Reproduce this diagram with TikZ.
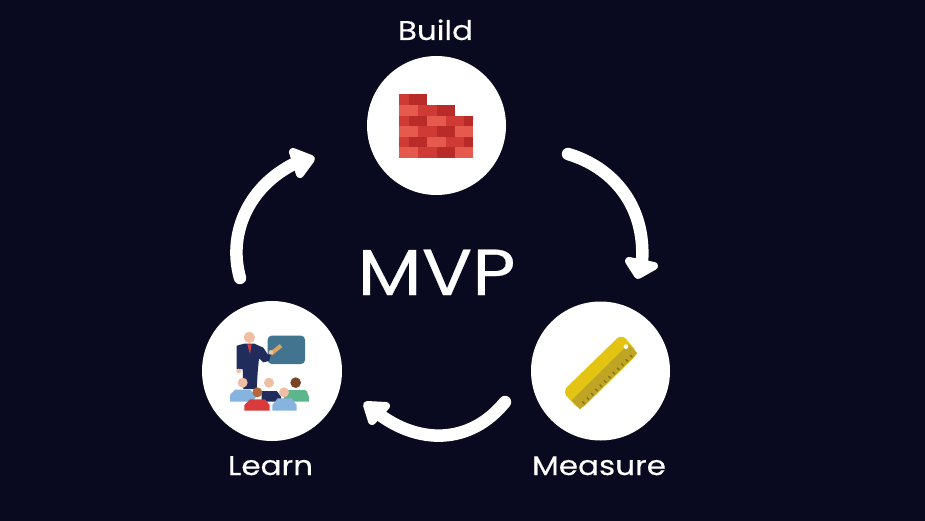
\documentclass[tikz,border=0pt]{standalone}
\usepackage{fontspec}
\setmainfont[FakeStretch=1.15,FakeBold=0.35]{Poppins}
\definecolor{bgc}{HTML}{090A1F}
\definecolor{brL}{HTML}{E65A4E}
\definecolor{brM}{HTML}{CF3B34}
\definecolor{brD}{HTML}{B92B29}
\definecolor{ruA}{HTML}{E3C412}
\definecolor{ruB}{HTML}{BFA523}
\definecolor{ruT}{HTML}{7F6E1A}
\definecolor{suit}{HTML}{1F2C5C}
\definecolor{skin}{HTML}{F0BDA5}
\definecolor{board}{HTML}{42748F}
\definecolor{stuB}{HTML}{86B4DE}
\definecolor{stuG}{HTML}{5DB58C}
\definecolor{stuR}{HTML}{D93A3C}
\definecolor{hairA}{HTML}{7A4526}
\definecolor{hairB}{HTML}{B5683D}
\definecolor{stick}{HTML}{D9A560}
\tikzset{
  disc/.style={circle,fill=white,draw=none,minimum size=139pt,inner sep=0pt,outer sep=0pt},
  lab/.style={text=white,inner sep=0pt,font=\fontsize{27}{27}\selectfont},
  title/.style={text=white,inner sep=0pt,font=\fontsize{65}{65}\selectfont},
  cyc/.style={draw=white,line width=12.5pt,line cap=round},
  headtri/.style={fill=white,draw=white,line width=8pt,line join=round},
  zoomA/.style={shift={(360,50)},xscale=1/3,yscale=1/3},
  zoomB/.style={shift={(195,295)},xscale=1/3,yscale=1/3},
  zoomC/.style={shift={(525,295)},xscale=1/3,yscale=1/3},
}
\newcommand{\brick}[4]{\fill[#4] (#1,#3) rectangle (#2,#3+32.5);}
\begin{document}
\begin{tikzpicture}[x=1pt,y=-1pt]
\useasboundingbox (0,0) rectangle (925,521);
\fill[bgc] (0,0) rectangle (925,521);
\node[disc] (build) at (436.5,125.5) {};
\node[disc,minimum size=140pt] (learn) at (272,371) {};
\node[disc] (measure) at (600.5,371) {};
\node[lab,anchor=base] (buildlab) at (435.5,40) {Build};
\node[lab,anchor=base] (learnlab) at (270.5,475) {Learn};
\node[lab,anchor=base] (measurelab) at (599,475) {Measure};
\node[title,anchor=base] (mvp) at (436.5,295) {MVP};
% arrows
\coordinate (a1s) at (568,154);
\coordinate (a1e) at (642,262);
\coordinate (a2s) at (240,278);
\coordinate (a2e) at (300,161);
\coordinate (a3s) at (505,402);
\coordinate (a3e) at (376,412);
\draw[cyc] (a1s) .. controls (612,167) and (646,205) .. (a1e);
\fill[headtri] (629,261) -- (654,266) -- (638,275) -- cycle;
\draw[cyc] (a2s) .. controls (227,232) and (250,183) .. (a2e);
\fill[headtri] (293,152) -- (311,159) -- (300,174) -- cycle;
\draw[cyc] (a3s) .. controls (470,445) and (418,445) .. (a3e);
\fill[headtri] (367,405) -- (386,406) -- (372,421) -- cycle;
% bricks
\begin{scope}[zoomA]
\brick{118}{148}{133}{brM}\brick{148}{202}{133}{brD}
\foreach \y in {197,261}{
 \brick{118}{148}{\y}{brM}\brick{148}{202}{\y}{brD}\brick{202}{258}{\y}{brL}\brick{258}{312}{\y}{brM}\brick{312}{340}{\y}{brD}}
\foreach \y in {165,229,292}{
 \brick{118}{175}{\y}{brL}\brick{175}{230}{\y}{brM}\brick{230}{285}{\y}{brD}}
\foreach \y in {229,292}{\brick{285}{340}{\y}{brL}}
\end{scope}
% ruler
\begin{scope}[zoomC]
\fill[ruA,draw=ruA,line width=1.5pt,line join=round,rounded corners=6] (290,120) -- (337,175) -- (165,343) -- (115,290) -- cycle;
\fill[ruB] (310,148) -- (337,175) -- (165,343) -- (140,316) -- cycle;
\fill[white] (303,155) circle (7);
\foreach \t in {0,1,...,11}{
 \draw[ruT,line width=1.2pt] ({322-\t*13},{187+\t*12.7}) -- ++(-7,-7);}
\end{scope}
% teacher
\begin{scope}[zoomB]
\fill[board,rounded corners=4] (218,122) rectangle (330,207);
\draw[line width=4pt,color=stick] (228,176) -- (258,152);
\fill[suit] (125,152) -- (148,146) -- (178,146) -- (205,158) -- (218,178) -- (228,178) -- (222,198) -- (205,202) -- (192,190) -- (188,232) -- (185,282) -- (145,282) -- (143,222) -- (138,222) -- (125,222) -- cycle;
\fill[stuR] (157,148) -- (170,148) -- (165,178) -- cycle;
\fill[skin] (163,127) circle (17);
\fill[skin] (228,172) circle (7);
\fill[skin] (131,228) circle (7);
% students
\fill[stuG] (270,285) -- (330,285) to[out=0,in=-90] (342,305) -- (342,320) -- (265,320) -- cycle;
\fill[hairA] (302,263) circle (16);
\fill[suit] (200,288) -- (245,288) -- (258,305) -- (258,320) -- (200,320) -- cycle;
\fill[skin] (222,263) circle (15);
\fill[stuB] (120,284) -- (165,284) -- (185,305) -- (170,320) -- (105,320) -- (105,300) -- cycle;
\fill[skin] (143,263) circle (15);
\fill[stuR] (165,313) -- (210,313) -- (224,330) -- (224,347) -- (148,347) -- (148,330) -- cycle;
\fill[hairB] (187,292) circle (15);
\fill[stuB] (248,310) -- (290,310) -- (305,330) -- (305,347) -- (232,347) -- (232,330) -- cycle;
\fill[skin] (267,292) circle (15);
\end{scope}
\end{tikzpicture}
\end{document}
